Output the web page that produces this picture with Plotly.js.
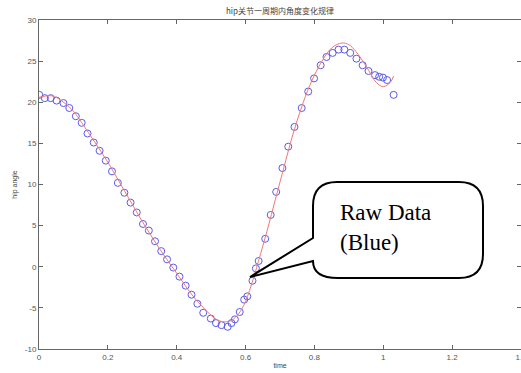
<!DOCTYPE html>
<html>
<head>
<meta charset="utf-8">
<script src="https://cdn.plot.ly/plotly-3.0.1.min.js"></script>
<style>html,body{margin:0;padding:0;background:#fff;}#chart{width:521px;height:373px;}</style>
</head>
<body>
<div id="chart"></div>
<script>
// Raw data (blue circles)
const timeRaw = [0.001,0.017,0.034,0.051,0.071,0.088,0.107,0.124,0.141,0.159,0.176,0.194,0.212,0.229,0.248,0.266,0.284,0.302,0.319,0.337,0.355,0.372,0.390,0.408,0.426,0.443,0.460,0.477,0.499,0.514,0.530,0.548,0.559,0.569,0.583,0.596,0.605,0.620,0.630,0.638,0.657,0.673,0.689,0.707,0.724,0.742,0.763,0.782,0.799,0.818,0.835,0.853,0.870,0.887,0.904,0.922,0.940,0.957,0.976,0.988,0.999,1.011,1.030];
const angleRaw = [20.9,20.5,20.5,20.2,19.9,19.3,18.3,17.5,16.2,15.1,14.1,12.9,11.6,10.2,9.0,7.8,6.6,5.2,4.4,3.1,1.9,0.9,-0.1,-1.2,-2.3,-3.4,-4.5,-5.6,-6.3,-6.85,-7.1,-7.3,-6.85,-6.4,-5.5,-4.0,-3.6,-1.7,-0.2,0.7,3.4,6.3,9.1,12.0,14.6,17.0,19.3,21.3,22.9,24.5,25.5,26.0,26.4,26.4,26.0,25.3,24.5,23.8,23.3,23.1,23.0,22.7,20.9];
// Fitted curve (red line)
const timeFit = [0,0.03,0.05,0.08,0.1,0.15,0.2,0.25,0.3,0.35,0.4,0.45,0.5,0.52,0.54,0.56,0.58,0.6,0.65,0.7,0.75,0.8,0.85,0.88,0.9,0.92,0.95,0.98,1.0,1.02,1.03];
const angleFit = [20.6,20.8,20.6,19.7,18.9,15.9,12.7,9.1,5.5,2.2,-0.8,-3.7,-5.9,-6.5,-6.7,-6.5,-5.7,-4.2,2.5,10.3,17.8,23.3,26.6,27.2,27.0,26.2,24.4,22.4,21.9,22.4,23.2];
const yTicks = [-10,-5,0,5,10,15,20,25,30];
const xTicks = [0,0.2,0.4,0.6,0.8,1,1.2,1.4];
const titleText = 'hip关节一周期内角度变化规律';
const xTitle = 'time';
const yTitle = 'hip angle';
const calloutText = 'Raw Data<br>(Blue)';

const W = 521, H = 373;
const mL = 39, mR = 0, mT = 20, mB = 24;
const pw = W - mL - mR, ph = H - mT - mB;
const xr = [0, 1.4], yr = [-10, 30];
// pixel -> data helpers for the callout box
const px = x => xr[0] + (x - mL) / pw * (xr[1] - xr[0]);
const py = y => yr[1] - (y - mT) / ph * (yr[1] - yr[0]);

const boxPath = [
  'M', px(337), py(182),
  'L', px(459), py(182),
  'Q', px(483), py(182), px(483), py(206),
  'L', px(483), py(254),
  'Q', px(483), py(278), px(459), py(278),
  'L', px(338), py(278),
  'Q', px(313), py(278), px(313), py(261),
  'L', px(250), py(277),
  'L', px(313), py(238),
  'L', px(313), py(206),
  'Q', px(313), py(182), px(337), py(182),
  'Z'
].join(' ');

const axisCommon = {
  showgrid: false, zeroline: false, showline: true, linecolor: '#666', linewidth: 1,
  mirror: 'ticks', ticks: 'inside', ticklen: 4, tickcolor: '#666', tickwidth: 1,
  ticklabeloverflow: 'allow',
  tickfont: {family: 'Liberation Sans, Arial, sans-serif', size: 8, color: '#555'},
  fixedrange: true
};

const data = [
  {x: timeRaw, y: angleRaw, type: 'scatter', mode: 'markers',
   marker: {symbol: 'circle-open', size: 7, color: '#5a5ae8', line: {width: 1, color: '#5a5ae8'}},
   hoverinfo: 'skip', showlegend: false},
  {x: timeFit, y: angleFit, type: 'scatter', mode: 'lines',
   line: {color: '#f07878', width: 1, shape: 'spline', smoothing: 1},
   hoverinfo: 'skip', showlegend: false}
];

const layout = {
  width: W, height: H,
  margin: {l: mL, r: mR, t: mT, b: mB, pad: 0},
  paper_bgcolor: '#fff', plot_bgcolor: '#fff',
  showlegend: false,
  title: {text: titleText, x: 0.5375, xanchor: 'center', y: 1 - 11/H, yanchor: 'middle',
          font: {family: 'Noto Sans CJK SC, Liberation Sans, sans-serif', size: 8, color: '#444'}},
  xaxis: Object.assign({}, axisCommon, {range: xr, tickvals: xTicks, ticktext: xTicks.map(String),
          title: {text: xTitle, standoff: 2, font: {family: 'Liberation Sans, Arial, sans-serif', size: 7, color: '#444'}}}),
  yaxis: Object.assign({}, axisCommon, {range: yr, tickvals: yTicks, ticktext: yTicks.map(String),
          title: {text: yTitle, standoff: 6, font: {family: 'Liberation Sans, Arial, sans-serif', size: 7, color: '#444'}}}),
  shapes: [
    {type: 'path', xref: 'x', yref: 'y', path: boxPath, fillcolor: '#fff',
     line: {color: '#000', width: 2}, layer: 'above'}
  ],
  annotations: [
    {xref: 'x', yref: 'y', x: px(338), y: py(198), xanchor: 'left', yanchor: 'top',
     text: calloutText, align: 'left', showarrow: false,
     font: {family: 'Liberation Serif, Times New Roman, serif', size: 23, color: '#000'}}
  ]
};

Plotly.newPlot('chart', data, layout, {staticPlot: true, displayModeBar: false});
</script>
</body>
</html>
